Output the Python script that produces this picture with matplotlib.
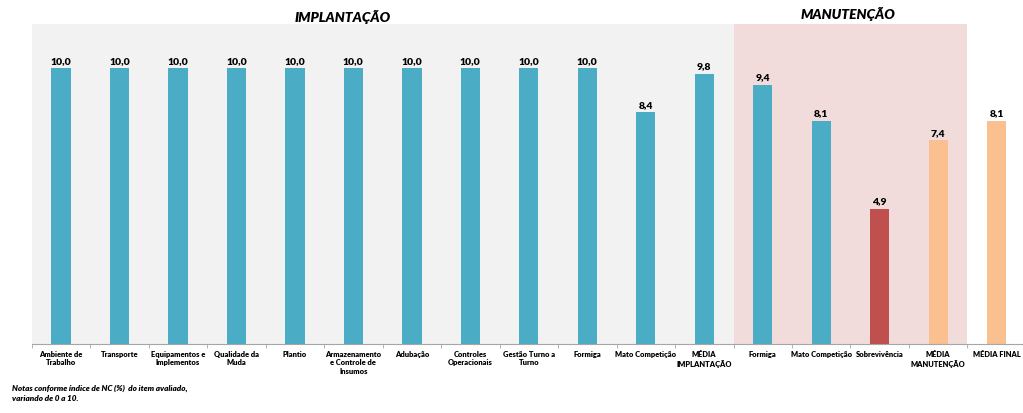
import matplotlib
matplotlib.use("Agg")
import matplotlib.pyplot as plt
import numpy as np

categories = ["Ambiente de\nTrabalho", "Transporte", "Equipamentos e\nImplementos",
              "Qualidade da\nMuda", "Plantio", "Armazenamento\ne Controle de\nInsumos",
              "Adubação", "Controles\nOperacionais", "Gestão Turno a\nTurno", "Formiga",
              "Mato Competição", "MÉDIA\nIMPLANTAÇÃO", "Formiga", "Mato Competição",
              "Sobrevivência", "MÉDIA\nMANUTENÇÃO", "MÉDIA FINAL"]
values = [10.0, 10.0, 10.0, 10.0, 10.0, 10.0, 10.0, 10.0, 10.0, 10.0, 8.4, 9.8,
          9.4, 8.1, 4.9, 7.4, 8.1]
kinds = ["item"] * 14 + ["low", "avg", "avg"]

color_map = {"item": "#4BACC6", "low": "#C0504D", "avg": "#FAC090"}
colors = [color_map[k] for k in kinds]

plt.rcParams['font.family'] = ['Lato', 'DejaVu Sans']

fig = plt.figure(figsize=(10.23, 4.14), dpi=100)
ax = fig.add_axes([0.031, 0.1667, 0.969, 0.7729])
x = np.arange(len(categories))
ax.set_xlim(-0.5, 16.45)
ax.set_ylim(0, 11.6)

ax.axvspan(-0.5, 11.5, color="#F2F2F2", zorder=0, lw=0)
ax.axvspan(11.5, 15.5, color="#F2DCDB", zorder=0, lw=0)

ax.bar(x, values, width=0.33, color=colors, zorder=2)
for xi, v in zip(x, values):
    ax.text(xi, v + 0.12, f"{v:.1f}".replace(".", ","), ha="center", va="bottom",
            fontsize=7.5, fontweight="heavy", color="#000000")

ax.set_xticks(x)
ax.set_xticklabels(categories, fontsize=5.4, fontweight="heavy", linespacing=1.3)
ax.tick_params(axis="x", which="major", length=0, pad=4)
ax.set_xticks(np.arange(-0.5, 16.5, 1), minor=True)
ax.tick_params(axis="x", which="minor", length=3, color="#A6A6A6")
ax.set_yticks([])
for s in ["left", "right", "top"]:
    ax.spines[s].set_visible(False)
ax.spines["bottom"].set_color("#A6A6A6")
ax.spines["bottom"].set_linewidth(0.8)

fig.text(343 / 1023, 1 - 17 / 414, "IMPLANTAÇÃO", ha="center", va="center",
         fontsize=10, fontweight="heavy", fontstyle="italic")
fig.text(848 / 1023, 1 - 14 / 414, "MANUTENÇÃO", ha="center", va="center",
         fontsize=10, fontweight="heavy", fontstyle="italic")
fig.text(12 / 1023, 1 - 393 / 414, "Notas conforme índice de NC (%)  do item avaliado,\nvariando de 0 a 10.",
         ha="left", va="center", fontsize=5.9, fontweight="heavy", fontstyle="italic",
         linespacing=1.45)

fig.savefig("out.png", dpi=100)
